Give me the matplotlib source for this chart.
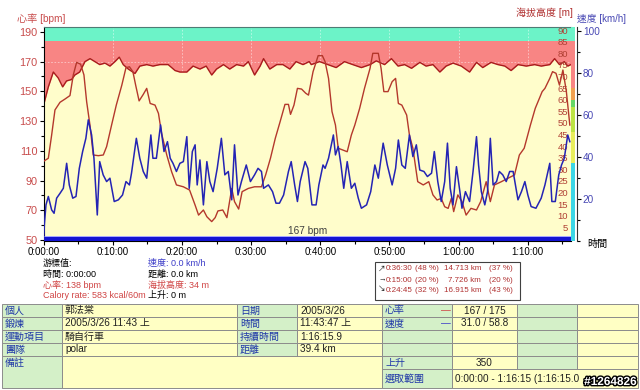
import matplotlib
matplotlib.use('Agg')
from matplotlib import pyplot as plt
from matplotlib.patches import Rectangle
from matplotlib.ticker import MultipleLocator
import matplotlib.patheffects as pe

plt.rcParams['font.family'] = ['Liberation Sans', 'Noto Sans CJK TC', 'DejaVu Sans']
plt.rcParams['font.size'] = 7.5

# ---- 心率 (bpm) ----
hr_t = [0, 0.67, 1.39, 2.1, 2.74, 3.3, 4.04, 4.5, 5.2, 5.97, 6.7, 7.4, 8.1, 8.86, 9.58,
        10.3, 10.93, 11.5, 12.23, 13.2, 13.9, 14.9, 15.8, 16.8, 18.0, 19.0, 19.7, 20.7,
        21.6, 22.6, 23.5, 24.3, 25.0, 26.0, 26.9, 27.9, 28.9, 29.6, 30.5, 31.3, 31.8,
        32.7, 33.7, 34.6, 35.6, 36.5, 37.5, 38.4, 38.7, 39.9, 41.1, 42.3, 43.5, 44.7,
        45.95, 47.2, 48.1, 49.3, 50.3, 51.25, 52.2, 53.2, 54.4, 55.3, 56.3, 57.3, 58.2,
        59.2, 60.4, 61.6, 62.6, 63.5, 64.7, 65.7, 66.7, 67.6, 68.6, 69.8, 71.0, 71.96,
        73.2, 73.9, 74.6, 75.3, 75.8, 76.25]
hr_v = [141, 153, 163, 159, 153, 157, 158, 161, 163, 170, 172, 170, 168, 169, 167,
        170, 173, 168, 165, 162, 167, 168, 167, 168, 168, 164, 163, 163,
        167, 165, 167, 161, 165, 168, 165, 168, 167, 170, 161, 167, 172,
        165, 168, 168, 165, 170, 168, 170, 168, 170, 168, 166, 170, 168,
        166, 168, 170.5, 168, 172, 167, 168, 165.5, 169.5, 167, 168, 163, 167,
        169, 167, 163, 169.5, 166, 169.5, 168, 167, 164, 168, 167, 168, 167,
        168, 172, 168, 170, 167, 168]

# ---- 海拔高度 (m) ----
alt_t = [0, 0.67, 1.15, 1.63, 2.36, 3.08, 3.8, 4.28, 4.76, 5.34, 5.82, 6.21, 6.69, 7.17,
         7.9, 8.62, 9.1, 9.82, 10.5, 11.3, 11.9, 12.4, 12.9, 13.3, 13.8, 14.4, 14.9, 15.4,
         16.1, 16.6, 17.05, 17.8, 18.5, 19.2, 20.2, 21.1, 21.9, 22.4, 23.1, 23.6, 24.3,
         24.8, 25.2, 25.9, 26.5, 27.2, 27.6, 28.2, 28.7, 29.6, 30.5, 31.5, 32.1, 32.8,
         33.5, 34.2, 34.9, 35.4, 35.7, 36.2, 36.7, 37.3, 37.9, 38.3, 38.96, 39.7, 40.3,
         40.7, 41.2, 41.7, 42.2, 42.6, 43.3, 43.9, 44.5, 45.0, 45.7, 46.4, 47.2, 47.6,
         48.4, 48.8, 49.2, 49.8, 50.4, 50.9, 51.3, 51.8, 52.5, 52.9, 53.4, 54.1, 54.9,
         55.7, 56.3, 56.9, 57.5, 58.0, 58.5, 58.96, 59.3, 59.9, 60.5, 61.1, 61.8, 62.6,
         63.2, 64.0, 64.6, 65.2, 66.2, 67.1, 68.1, 68.8, 69.5, 70.4, 71.1, 71.6, 72.1,
         72.5, 73.2, 73.6, 74.1, 74.6, 75.1, 75.6, 76.1]
alt_v = [33.5, 34.8, 44.8, 55.6, 58.9, 60.3, 61.8, 70.7, 76.1, 75.3, 70.7, 59.2, 49.1, 36.2,
         35.9, 36.2, 39.8, 49.1, 57.7, 66.3, 73.8, 74.2, 72.1, 66.3, 59.5, 62.3, 64.9, 58.4,
         57.7, 54.1, 45.5, 36.2, 29.0, 23.3, 22.5, 21.1, 14.6, 10.3, 12.5, 9.6, 7.5,
         9.2, 12.1, 12.5, 9.2, 21.8, 16.1, 12.9, 20.4, 21.8, 22.5, 22.5, 27.6, 34.8,
         43.4, 50.6, 58.0, 58.0, 53.7, 57.7, 64.9, 64.6, 62.8, 62.0, 72.1, 79.0, 79.0,
         76.4, 69.2, 54.9, 49.1, 39.1, 38.3, 37.6, 44.8, 49.1, 56.3, 64.9, 73.5, 80.0,
         80.0, 73.5, 63.5, 63.5, 67.8, 69.2, 58.4, 57.7, 53.4, 44.8, 39.1, 24.7, 23.3,
         24.7, 19.0, 16.8, 17.5, 13.9, 13.2, 17.5, 11.8, 19.0, 16.1, 10.3, 13.2, 12.5,
         16.1, 24.7, 16.1, 23.3, 24.7, 26.1, 27.6, 36.2, 39.1, 49.1, 56.3, 59.9, 63.5,
         64.9, 69.2, 72.1, 71.4, 66.3, 72.8, 63.5, 49.1]

# ---- 速度 (km/h) ----
spd_t = [0, 0.1, 0.33, 0.67, 1.15, 1.5, 1.87, 2.36, 2.84, 3.32, 3.7, 4.2, 4.67, 5.15, 5.63,
         6.1, 6.45, 6.93, 7.27, 7.75, 8.1, 8.6, 9.1, 9.58, 10.2, 10.8, 11.4, 11.9, 12.4,
         12.7, 13.4, 13.9, 14.4, 14.9, 15.5, 15.8, 16.3, 16.9, 17.4, 17.9, 18.3, 18.7,
         19.2, 19.7, 20.2, 20.7, 21.05, 21.5, 21.9, 22.2, 22.6, 23.1, 23.6, 24.03, 24.5,
         25.1, 25.7, 26.2, 26.7, 27.2, 27.6, 28.1, 28.6, 29.3, 29.9, 30.5, 31.0, 31.5,
         31.8, 32.5, 33.1, 33.6, 34.1, 34.7, 35.4, 35.8, 36.3, 36.7, 37.1, 37.8, 38.2,
         38.8, 39.4, 39.8, 40.4, 40.7, 41.2, 41.9, 42.2, 42.6, 43.0, 43.4, 43.9, 44.5,
         45.0, 45.5, 45.95, 46.7, 47.3, 47.9, 48.4, 49.1, 49.7, 50.4, 50.9, 51.3, 51.8,
         52.3, 52.9, 53.4, 53.9, 54.4, 55.0, 55.5, 56.1, 56.5, 57.0, 57.5, 58.0, 58.4,
         58.8, 59.2, 59.7, 60.2, 60.5, 61.0, 61.6, 62.1, 62.6, 62.9, 63.3, 63.8, 64.2,
         64.6, 65.0, 65.5, 65.9, 66.4, 66.9, 67.4, 67.9, 68.6, 69.1, 69.6, 70.03, 70.5,
         71.2, 71.96, 72.5, 73.2, 73.5, 74.0, 74.5, 74.9, 75.3, 75.8, 76.1]
spd_v = [0, 8, 17.2, 21.2, 14.8, 13.2, 20.4, 22.7, 25.1, 37.0, 26.7, 20.4, 21.2, 34.6, 42.6,
         48.9, 57.7, 50.5, 39.4, 12.4, 37.8, 31.5, 28.3, 29.9, 18.8, 19.6, 21.9, 28.3, 26.7,
         32.3, 48.9, 39.4, 33.1, 29.9, 50.5, 39.4, 39.4, 55.3, 42.6, 47.3, 39.4, 37.0,
         33.1, 37.0, 37.8, 49.7, 25.1, 42.6, 45.8, 26.7, 38.6, 17.2, 37.8, 28.3, 23.5,
         34.6, 48.9, 31.5, 33.1, 19.6, 45.8, 21.9, 28.3, 36.2, 28.3, 31.5, 34.6, 33.1,
         25.1, 26.7, 23.5, 18.0, 18.0, 21.9, 33.1, 37.8, 26.7, 18.8, 28.3, 37.8, 34.6,
         17.2, 17.2, 26.7, 36.2, 34.6, 39.4, 50.5, 41.0, 45.0, 36.2, 25.1, 37.8, 25.1,
         27.5, 20.4, 15.6, 17.2, 23.5, 36.2, 29.9, 46.6, 36.2, 26.7, 34.6, 48.1, 36.2,
         34.6, 50.5, 40.2, 45.8, 33.8, 33.1, 30.7, 32.3, 42.6, 28.3, 18.8, 28.3, 46.6,
         25.1, 17.2, 35.4, 23.5, 15.6, 23.5, 18.8, 33.1, 49.7, 36.2, 23.5, 17.2, 23.5,
         48.9, 26.7, 28.3, 33.1, 31.5, 28.3, 33.1, 33.1, 19.6, 23.5, 28.3, 21.9, 16.4,
         15.6, 20.4, 26.7, 37.0, 18.8, 18.8, 31.5, 36.2, 39.4, 50.5, 47.3]

x_ticks = [0, 10, 20, 30, 40, 50, 60, 70]
x_labels = ['0:00:00', '0:10:00', '0:20:00', '0:30:00', '0:40:00', '0:50:00', '1:00:00', '1:10:00']
hr_ticks = [50, 70, 90, 110, 130, 150, 170, 190]
alt_ticks = list(range(5, 91, 5))
spd_ticks = [20, 40, 60, 80, 100]
avg_hr_label = '167 bpm'

cursor_col1 = [('游標值:', 'k'), ('時間: 0:00:00', 'k'), ('心率: 138 bpm', '#d04444'),
               ('Calory rate: 583 kcal/60m', '#d04444')]
cursor_col2 = [('速度: 0.0 km/h', '#3c3cc8'), ('距離: 0.0 km', 'k'), ('海拔高度: 34 m', '#d04444'),
               ('上升: 0 m', 'k')]

slope_arrows = ['↗', '→', '↘']
slope_time = ['0:36:30', '0:15:00', '0:24:45']
slope_time_pct = ['(48 %)', '(20 %)', '(32 %)']
slope_dist = ['14.713 km', '7.726 km', '16.915 km']
slope_dist_pct = ['(37 %)', '(20 %)', '(43 %)']

tbl_labels_a = ['個人', '鍛煉', '運動項目', '團隊', '備註']
tbl_values_a = ['郭法棠', '2005/3/26 11:43 上', '騎自行車', 'polar']
tbl_labels_b = ['日期', '時間', '持續時間', '距離']
tbl_values_b = ['2005/3/26', '11:43:47 上', '1:16:15.9', '39.4 km']
tbl_labels_c = ['心率', '速度', '', '', '上升', '選取範圍']
tbl_values_c = ['167 / 175', '31.0 / 58.8', '', '', '350']
tbl_range = '0:00:00 - 1:16:15 (1:16:15.0'
watermark = '#1264826'

W, H = 640, 390


def fx(x):
    return x / W


def fy(y):
    return 1 - y / H


fig = plt.figure(figsize=(6.4, 3.9), dpi=100)
fig.patch.set_facecolor('white')

# ---------- 主圖 ----------
ax = fig.add_axes([fx(43.7), fy(241), (571 - 43.7) / W, (241 - 26.7) / H])
ax.set_xlim(0, 76.27)
ax.set_ylim(49.3, 193.5)
ax.axhspan(49.3, 184.1, color='#f88584', lw=0, zorder=0.1)
ax.axhspan(184.1, 193.5, color='#6cf3c8', lw=0, zorder=0.1)
ax.set_axisbelow(True)
ax.xaxis.grid(True, color='white', ls=(0, (2, 2)), lw=0.6, alpha=0.55)
ax.axhline(170, color='white', ls=(0, (2, 2)), lw=0.6, alpha=0.55, zorder=0.5)
ax.fill_between(hr_t, hr_v, 49.3, color='#fffdcb', lw=0, zorder=1)
ax.plot(hr_t, hr_v, color='#a81c1c', lw=1.0, zorder=2)

ax.set_xticks(x_ticks)
ax.set_xticklabels(x_labels)
ax.xaxis.set_minor_locator(MultipleLocator(5))
ax.set_yticks(hr_ticks)
ax.yaxis.set_minor_locator(MultipleLocator(10))
ax.tick_params(axis='both', which='major', direction='out', length=3, width=0.8, pad=1.5)
ax.tick_params(axis='both', which='minor', direction='out', length=2, width=0.8)
ax.tick_params(axis='x', labelsize=7)
ax.tick_params(axis='y', labelcolor='#c84c4c', labelsize=7.8)
for s in ['left', 'bottom']:
    ax.spines[s].set_color('black')
ax.spines['top'].set_color('#4e7c74')
ax.spines['right'].set_visible(False)

# 下方選取範圍條
ax.add_patch(Rectangle((0, 0), 1, 0.019, transform=ax.transAxes, color='#1414d2', lw=0, zorder=5))
ax.add_patch(Rectangle((0, 0.019), 1, 0.006, transform=ax.transAxes, color='#a8a8ff', lw=0, zorder=5))

# ---------- 海拔高度 ----------
ax_alt = ax.twinx()
ax_alt.set_ylim(-0.86, 91.47)
ax_alt.plot(alt_t, alt_v, color='#b4382c', lw=1.0)
ax_alt.set_yticks(alt_ticks)
ax_alt.tick_params(axis='y', length=0, pad=-2, labelcolor='#b04034', labelsize=6.8)
plt.setp(ax_alt.get_yticklabels(), ha='right')
for s in ax_alt.spines.values():
    s.set_visible(False)

# ---------- 速度 ----------
ax_spd = ax.twinx()
ax_spd.set_ylim(0, 102.05)
ax_spd.plot(spd_t, spd_v, color='#2424b4', lw=1.1)
ax_spd.set_yticks(spd_ticks)
ax_spd.yaxis.set_minor_locator(MultipleLocator(10))
ax_spd.tick_params(axis='y', which='major', direction='out', length=3, width=0.8, pad=1.5,
                   labelcolor='#4848b4', labelsize=7.2)
ax_spd.tick_params(axis='y', which='minor', direction='out', length=2, width=0.8)
for s in ['left', 'top', 'bottom']:
    ax_spd.spines[s].set_visible(False)
ax_spd.spines['right'].set_position(('outward', 4))
ax_spd.spines['right'].set_color('#303030')

strip_w = 4 / 527.3
for lo, hi, c in [(0, 37, '#3cd6e6'), (37, 52, '#e8ee5c'), (52, 64, '#bce444'),
                  (64, 67, '#66d866'), (67, 73, '#f0a050'), (73, 95.4, '#f88584'),
                  (95.4, 102.05, '#6cf3c8')]:
    ax_spd.axhspan(lo, hi, xmin=1.0, xmax=1.0 + strip_w, color=c, lw=0, clip_on=False)

ax_spd.text(0.5, 0.046, avg_hr_label, transform=ax_spd.transAxes, ha='center', va='center',
            color='#404040', fontsize=7.3)

# 軸標題
fig.text(fx(17), fy(19), '心率 [bpm]', color='#c84c4c', ha='left', va='center', fontsize=7.3)
fig.text(fx(573), fy(13), '海拔高度 [m]', color='#b03030', ha='right', va='center', fontsize=7.2)
fig.text(fx(577), fy(19), '速度 [km/h]', color='#4848b4', ha='left', va='center', fontsize=7)
fig.text(fx(587), fy(244), '時間', color='black', ha='left', va='center', fontsize=7.3)

# ---------- 游標值 ----------
line_y = [263, 274, 285, 295]
for (txt, c), y in zip(cursor_col1, line_y):
    fig.text(fx(43), fy(y), txt, color=c, ha='left', va='center', fontsize=6.5)
for (txt, c), y in zip(cursor_col2, line_y):
    fig.text(fx(148), fy(y), txt, color=c, ha='left', va='center', fontsize=6.5)

# ---------- 坡度統計框 ----------
fig.add_artist(Rectangle((fx(375), fy(300)), (520 - 375) / W, 38 / H, transform=fig.transFigure,
                         facecolor='white', edgecolor='#404040', lw=0.8))
for i, y in enumerate([269, 280, 290]):
    fig.text(fx(378), fy(y), slope_arrows[i], color='#202020', ha='left', va='center', fontsize=5.5)
    fig.text(fx(386), fy(y), slope_time[i], color='#b03030', ha='left', va='center', fontsize=5.8)
    fig.text(fx(415), fy(y), slope_time_pct[i], color='#b03030', ha='left', va='center', fontsize=5.8)
    fig.text(fx(481), fy(y), slope_dist[i], color='#b03030', ha='right', va='center', fontsize=5.8)
    fig.text(fx(489), fy(y), slope_dist_pct[i], color='#b03030', ha='left', va='center', fontsize=5.8)

# ---------- 表格 ----------
cols = [2, 62, 237, 297, 382, 452, 517, 577, 638]
rows = [304, 317, 330, 343, 356, 369, 388]
green, yellow, edge = '#d4f0c8', '#ffffc4', '#8c8c8c'
lab_c, val_c = '#2038a8', '#202020'


def cell(c0, c1, r0, r1, color, text='', tcolor=val_c, align='left', top=False):
    x0, x1, y0, y1 = cols[c0], cols[c1], rows[r0], rows[r1]
    fig.add_artist(Rectangle((fx(x0), fy(y1)), (x1 - x0) / W, (y1 - y0) / H,
                             transform=fig.transFigure, facecolor=color, edgecolor=edge, lw=0.7))
    if text:
        ty = y0 + 6.5 if top else (y0 + y1) / 2
        if align == 'left':
            fig.text(fx(x0 + 3), fy(ty), text, color=tcolor, ha='left', va='center', fontsize=7.2)
        else:
            fig.text(fx((x0 + x1) / 2), fy(ty), text, color=tcolor, ha='center', va='center',
                     fontsize=7.2)


for r in range(4):
    cell(0, 1, r, r + 1, green, tbl_labels_a[r], lab_c)
    cell(1, 2, r, r + 1, yellow, tbl_values_a[r])
    cell(2, 3, r, r + 1, green, tbl_labels_b[r], lab_c)
    cell(3, 4, r, r + 1, yellow, tbl_values_b[r])
cell(0, 1, 4, 6, green, tbl_labels_a[4], lab_c, top=True)
cell(1, 4, 4, 6, yellow)
for r in range(5):
    cell(4, 5, r, r + 1, green, tbl_labels_c[r], lab_c)
    cell(5, 6, r, r + 1, yellow, tbl_values_c[r], align='center')
    cell(6, 7, r, r + 1, green)
    cell(7, 8, r, r + 1, yellow)
cell(4, 5, 5, 6, green, tbl_labels_c[5], lab_c)
cell(5, 8, 5, 6, yellow, tbl_range)
for r, c in [(0, '#d04444'), (1, '#3c3cc8')]:
    fig.text(fx(446), fy((rows[r] + rows[r + 1]) / 2), '—', color=c, ha='center', va='center',
             fontsize=7)

fig.text(fx(636), fy(382), watermark, color='white', ha='right', va='center', fontsize=8.5,
         fontweight='bold', path_effects=[pe.withStroke(linewidth=2, foreground='black')])

fig.savefig('out.png', dpi=100)
